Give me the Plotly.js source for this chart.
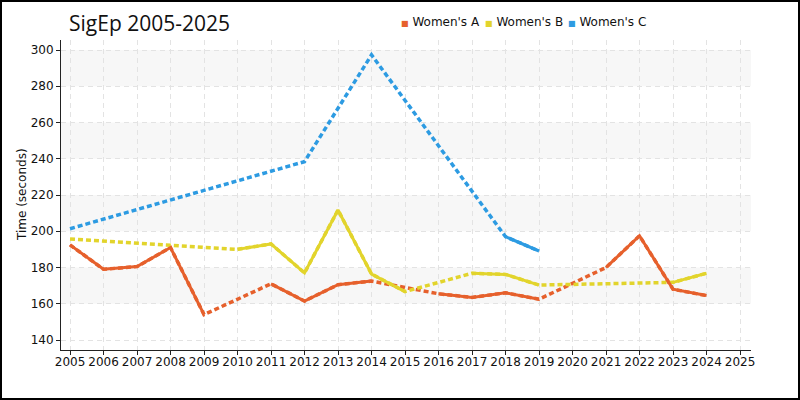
<!DOCTYPE html>
<html>
<head>
<meta charset="utf-8">
<script src="https://cdn.plot.ly/plotly-3.0.1.min.js"></script>
<style>
  html, body { margin: 0; padding: 0; background: #fff; }
  #wrap { position: relative; width: 800px; height: 400px; }
  #chart { width: 800px; height: 400px; }
  #frame { position: absolute; left: 0; top: 0; width: 800px; height: 400px; box-sizing: border-box; border: 2px solid #000; pointer-events: none; }
</style>
</head>
<body>
<div id="wrap"><div id="chart"></div><div id="frame"></div></div>
<script>
// ---- data ----
const years = [2005, 2006, 2007, 2008, 2009, 2010, 2011, 2012, 2013, 2014,
               2015, 2016, 2017, 2018, 2019, 2020, 2021, 2022, 2023, 2024];
const womensA = [192.5, 179, 180.5, 191, 154, null, 171, 161.5, 170.5, 172.5,
                 null, 165.5, 163.5, 166, 162.5, null, 180, 197.5, 168, 164.5];
const womensB = [195.7, null, null, null, null, 190, 193, 177, 211.7, 176.4,
                 166.7, null, 176.8, 176.2, 170.3, null, null, null, 171.8, 176.8];
const womensC = [201.4, null, null, null, null, null, null, 238.4, null, 297.3,
                 null, null, null, 197, 189.1, null, null, null, null, null];
const seriesNames = ["Women's A", "Women's B", "Women's C"];
const seriesColors = ["#e6602c", "#e2d42c", "#2d9be2"];
const xTickYears = [2005, 2006, 2007, 2008, 2009, 2010, 2011, 2012, 2013, 2014, 2015,
                    2016, 2017, 2018, 2019, 2020, 2021, 2022, 2023, 2024, 2025];
const yTicks = [140, 160, 180, 200, 220, 240, 260, 280, 300];
const bandRanges = [[160, 180], [200, 220], [240, 260], [280, 300]];
const yAxisTitle = 'Time (seconds)';

const seriesValues = [womensA, womensB, womensC];
const traces = [];
seriesValues.forEach((vals, i) => {
  // dashed: bridges the missing years
  traces.push({
    type: 'scatter', mode: 'lines', x: years, y: vals, connectgaps: true,
    line: { color: seriesColors[i], width: 3.5, dash: '5px,3px' },
    showlegend: false, hoverinfo: 'skip'
  });
});
seriesValues.forEach((vals, i) => {
  // solid: only between consecutive known years
  traces.push({
    type: 'scatter', mode: 'lines', x: years, y: vals, connectgaps: false,
    name: seriesNames[i],
    line: { color: seriesColors[i], width: 3 },
    showlegend: false
  });
});

const shapes = bandRanges.map(r => ({
  type: 'rect', xref: 'paper', yref: 'y', x0: 0, x1: 1, y0: r[0], y1: r[1],
  fillcolor: '#f7f7f7', line: { width: 0 }, layer: 'below'
}));

const legendX = [399, 483, 566];
const annotations = seriesNames.map((n, i) => ({
  xref: 'paper', yref: 'paper',
  x: (legendX[i] - 61) / 690, y: 1 + (40 - 22) / 310,
  xanchor: 'left', yanchor: 'middle', showarrow: false,
  text: '<span style="color:' + seriesColors[i] + ';font-size:8px">■</span> ' + n,
  font: { family: 'DejaVu Sans', size: 12, color: '#111' }
}));
annotations.push({
  xref: 'paper', yref: 'paper', x: (22 - 61) / 690, y: 0.5,
  xanchor: 'center', yanchor: 'middle', showarrow: false, textangle: -90,
  text: yAxisTitle, font: { family: 'DejaVu Sans', size: 12, color: '#111' }
});

const tickFont = { family: 'DejaVu Sans', size: 12, color: '#111' };
const layout = {
  width: 800, height: 400,
  margin: { l: 61, r: 49, t: 40, b: 50, pad: 0 },
  paper_bgcolor: '#ffffff', plot_bgcolor: '#ffffff',
  showlegend: false,
  title: {
    text: 'SigEp 2005-2025',
    font: { family: 'Open Sans', size: 21, color: '#111' },
    xref: 'container', yref: 'container',
    x: 69 / 800, xanchor: 'left', y: 1 - 24 / 400, yanchor: 'middle'
  },
  xaxis: {
    range: [2004.731, 2025.328],
    tickmode: 'array', tickvals: xTickYears, ticktext: xTickYears.map(String),
    showline: true, linecolor: '#222', linewidth: 1,
    ticks: 'outside', ticklen: 4, tickcolor: '#222',
    showgrid: true, gridcolor: '#e3e3e3', gridwidth: 1, griddash: '5px,4px',
    zeroline: false, tickfont: tickFont, tickangle: 0, ticklabelstandoff: -3
  },
  yaxis: {
    range: [134.48, 305.52],
    tickmode: 'array', tickvals: yTicks, ticktext: yTicks.map(String),
    showline: true, linecolor: '#222', linewidth: 1,
    ticks: 'outside', ticklen: 4, tickcolor: '#222',
    showgrid: true, gridcolor: '#e3e3e3', gridwidth: 1, griddash: '5px,4px',
    zeroline: false, tickfont: tickFont
  },
  shapes: shapes,
  annotations: annotations
};

Plotly.newPlot('chart', traces, layout, { staticPlot: true, displayModeBar: false });
</script>
</body>
</html>
